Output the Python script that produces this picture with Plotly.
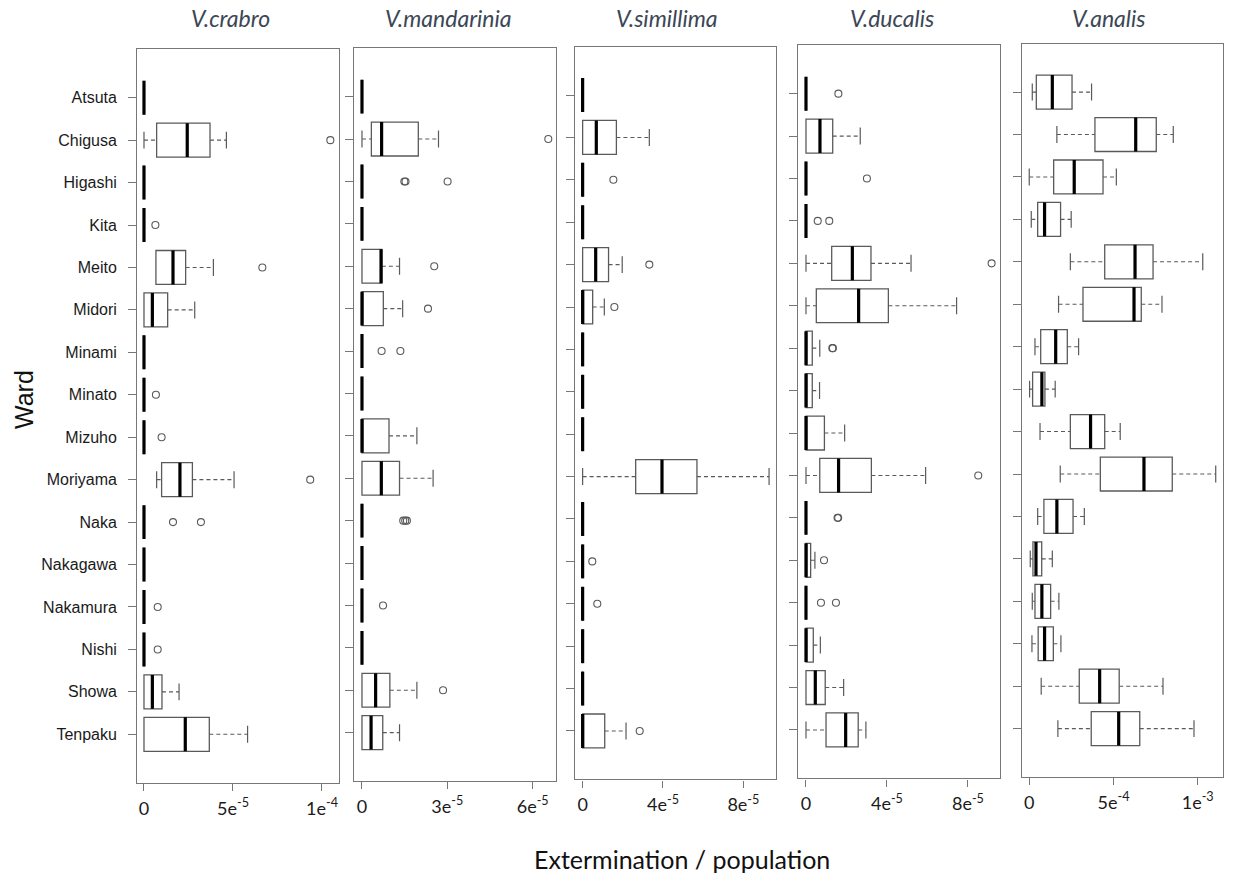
import plotly.graph_objects as go

W, H = 1239, 880

WARDS = ["Atsuta", "Chigusa", "Higashi", "Kita", "Meito", "Midori", "Minami",
         "Minato", "Mizuho", "Moriyama", "Naka", "Nakagawa", "Nakamura",
         "Nishi", "Showa", "Tenpaku"]

# ---- V.crabro (values in units of 1e-5) ----
crabro_lo  = [0, 0.00, 0, 0, 0.67, 0.00, 0, 0, 0, 0.71, 0, 0, 0, 0, 0.00, 0.00]
crabro_q1  = [0, 0.71, 0, 0, 0.67, 0.00, 0, 0, 0, 0.99, 0, 0, 0, 0, 0.00, 0.00]
crabro_med = [0, 2.43, 0, 0, 1.63, 0.47, 0, 0, 0, 2.02, 0, 0, 0, 0, 0.47, 2.32]
crabro_q3  = [0, 3.71, 0, 0, 2.34, 1.33, 0, 0, 0, 2.72, 0, 0, 0, 0, 1.01, 3.67]
crabro_hi  = [0, 4.63, 0, 0, 3.90, 2.85, 0, 0, 0, 5.06, 0, 0, 0, 0, 1.97, 5.82]
crabro_out_ward = ["Chigusa", "Kita", "Meito", "Minato", "Mizuho", "Moriyama",
                   "Naka", "Naka", "Nakamura", "Nishi"]
crabro_out_val = [10.47, 0.64, 6.65, 0.67, 0.99, 9.34, 1.63, 3.20, 0.77, 0.77]

# ---- V.mandarinia (1e-5) ----
mand_lo  = [0, 0.00, 0, 0, 0.00, 0.00, 0, 0, 0.00, 0.00, 0, 0, 0, 0, 0.00, 0.00]
mand_q1  = [0, 0.33, 0, 0, 0.00, 0.00, 0, 0, 0.00, 0.00, 0, 0, 0, 0, 0.00, 0.00]
mand_med = [0, 0.69, 0, 0, 0.67, 0.00, 0, 0, 0.00, 0.68, 0, 0, 0, 0, 0.48, 0.32]
mand_q3  = [0, 1.98, 0, 0, 0.70, 0.75, 0, 0, 0.95, 1.32, 0, 0, 0, 0, 0.98, 0.73]
mand_hi  = [0, 2.69, 0, 0, 1.32, 1.43, 0, 0, 1.93, 2.50, 0, 0, 0, 0, 1.93, 1.32]
mand_out_ward = ["Chigusa", "Higashi", "Higashi", "Higashi", "Meito", "Midori",
                 "Minami", "Minami", "Naka", "Naka", "Naka", "Nakamura", "Showa"]
mand_out_val = [6.55, 1.49, 1.53, 3.01, 2.54, 2.32,
                0.69, 1.35, 1.45, 1.52, 1.58, 0.74, 2.85]

# ---- V.simillima (1e-5) ----
sim_lo  = [0, 0.00, 0, 0, 0.00, 0.00, 0, 0, 0, 0.00, 0, 0, 0, 0, 0, 0.00]
sim_q1  = [0, 0.00, 0, 0, 0.00, 0.00, 0, 0, 0, 2.64, 0, 0, 0, 0, 0, 0.00]
sim_med = [0, 0.68, 0, 0, 0.65, 0.00, 0, 0, 0, 3.95, 0, 0, 0, 0, 0, 0.00]
sim_q3  = [0, 1.68, 0, 0, 1.29, 0.50, 0, 0, 0, 5.69, 0, 0, 0, 0, 0, 1.10]
sim_hi  = [0, 3.32, 0, 0, 1.97, 1.08, 0, 0, 0, 9.28, 0, 0, 0, 0, 0, 2.16]
sim_out_ward = ["Higashi", "Meito", "Midori", "Nakagawa", "Nakamura", "Tenpaku"]
sim_out_val = [1.53, 3.32, 1.58, 0.48, 0.73, 2.84]

# ---- V.ducalis (1e-5) ----
duc_lo  = [0, 0.00, 0, 0, 0.00, 0.00, 0, 0, 0, 0.00, 0, 0, 0, 0, 0.00, 0.00]
duc_q1  = [0, 0.00, 0, 0, 1.27, 0.51, 0, 0, 0, 0.68, 0, 0, 0, 0, 0.00, 0.99]
duc_med = [0, 0.69, 0, 0, 2.29, 2.60, 0, 0, 0, 1.61, 0, 0, 0, 0, 0.46, 1.96]
duc_q3  = [0, 1.32, 0, 0, 3.21, 4.07, 0.31, 0.31, 0.91, 3.23, 0, 0.23, 0, 0.36, 0.95, 2.58]
duc_hi  = [0, 2.68, 0, 0, 5.19, 7.44, 0.68, 0.67, 1.91, 5.91, 0, 0.44, 0, 0.71, 1.86, 2.96]
duc_out_ward = ["Atsuta", "Higashi", "Kita", "Kita", "Meito", "Minami", "Minami",
                "Moriyama", "Naka", "Naka", "Nakagawa", "Nakamura", "Nakamura"]
duc_out_val = [1.60, 3.01, 0.58, 1.15, 9.17, 1.30, 1.33,
               8.51, 1.56, 1.59, 0.89, 0.74, 1.48]

# ---- V.analis (1e-4) ----
ana_lo  = [0.18, 1.64, 0.00, 0.12, 2.44, 1.74, 0.34, 0.02,
           0.64, 1.84, 0.50, 0.06, 0.18, 0.16, 0.71, 1.70]
ana_q1  = [0.42, 3.90, 1.45, 0.50, 4.48, 3.19, 0.68, 0.20,
           2.44, 4.22, 0.87, 0.22, 0.34, 0.53, 2.97, 3.68]
ana_med = [1.37, 6.32, 2.67, 0.91, 6.28, 6.22, 1.57, 0.75,
           3.64, 6.81, 1.64, 0.40, 0.75, 0.91, 4.18, 5.31]
ana_q3  = [2.54, 7.54, 4.38, 1.86, 7.35, 6.65, 2.26, 0.93,
           4.48, 8.49, 2.60, 0.74, 1.27, 1.43, 5.34, 6.56]
ana_hi  = [3.70, 8.55, 5.17, 2.49, 10.30, 7.88, 2.93, 1.54,
           5.40, 11.07, 3.27, 1.37, 1.76, 1.88, 7.94, 9.78]
ana_out_ward = []
ana_out_val = []

# panel settings: title, scale, stats, outliers, tick values/labels,
# x range (in scale units), x-domain px, y-domain px, title x px
PANELS = [
    ("V.crabro", 1e-5, (crabro_lo, crabro_q1, crabro_med, crabro_q3, crabro_hi),
     (crabro_out_ward, crabro_out_val), [0, 5, 10], ["0", "5e<sup>-5</sup>", "1e<sup>-4</sup>"],
     (-0.376, 10.94), (137.3, 338.7), (49.3, 782.7), 230),
    ("V.mandarinia", 1e-5, (mand_lo, mand_q1, mand_med, mand_q3, mand_hi),
     (mand_out_ward, mand_out_val), [0, 3, 6], ["0", "3e<sup>-5</sup>", "6e<sup>-5</sup>"],
     (-0.27, 6.81), (354.3, 555.7), (48.3, 781.0), 448),
    ("V.simillima", 1e-5, (sim_lo, sim_q1, sim_med, sim_q3, sim_hi),
     (sim_out_ward, sim_out_val), [0, 4, 8], ["0", "4e<sup>-5</sup>", "8e<sup>-5</sup>"],
     (-0.38, 9.64), (575.0, 776.3), (46.7, 779.3), 667),
    ("V.ducalis", 1e-5, (duc_lo, duc_q1, duc_med, duc_q3, duc_hi),
     (duc_out_ward, duc_out_val), [0, 4, 8], ["0", "4e<sup>-5</sup>", "8e<sup>-5</sup>"],
     (-0.38, 9.57), (798.3, 999.7), (45.3, 778.3), 892),
    ("V.analis", 1e-4, (ana_lo, ana_q1, ana_med, ana_q3, ana_hi),
     (ana_out_ward, ana_out_val), [0, 5, 10], ["0", "5e<sup>-4</sup>", "1e<sup>-3</sup>"],
     (-0.43, 11.52), (1022.0, 1223.3), (43.7, 777.0), 1109),
]

POS = {w: i + 1 for i, w in enumerate(WARDS)}
positions = [POS[w] for w in WARDS]

BOX_HALF = 0.4     # half box thickness (boxwex 0.8)
CAP_HALF = 0.2     # half staple length
LINE_GREY = "#5a5a5a"
FRAME_GREY = "#777777"

fig = go.Figure()
annotations = []

for k, (title, scale, stats, outs, tv, tt, xr, xdom, ydom, tx) in enumerate(PANELS):
    sfx = "" if k == 0 else str(k + 1)
    xa, ya = "x" + sfx, "y" + sfx
    lo, q1, med, q3, hi = [[v * scale for v in arr] for arr in stats]

    # boxes (hinges only; whiskers drawn separately with dashed lines)
    fig.add_trace(go.Box(
        y=positions, q1=q1, median=med, q3=q3, lowerfence=q1, upperfence=q3,
        orientation="h", width=2 * BOX_HALF, whiskerwidth=0,
        line=dict(color=LINE_GREY, width=1.3), fillcolor="rgba(0,0,0,0)",
        boxpoints=False, hoverinfo="skip", showlegend=False,
        xaxis=xa, yaxis=ya))

    # dashed whiskers and solid staples
    wx, wy, cx, cy = [], [], [], []
    for p, a, b, c, d in zip(positions, lo, q1, q3, hi):
        if a < b:
            wx += [a, b, None]; wy += [p, p, None]
            cx += [a, a, None]; cy += [p - CAP_HALF, p + CAP_HALF, None]
        if d > c:
            wx += [c, d, None]; wy += [p, p, None]
            cx += [d, d, None]; cy += [p - CAP_HALF, p + CAP_HALF, None]
    fig.add_trace(go.Scatter(x=wx, y=wy, mode="lines",
                             line=dict(color=LINE_GREY, width=1.1, dash="4px,3px"),
                             hoverinfo="skip", showlegend=False, xaxis=xa, yaxis=ya))
    fig.add_trace(go.Scatter(x=cx, y=cy, mode="lines",
                             line=dict(color=LINE_GREY, width=1.2),
                             hoverinfo="skip", showlegend=False, xaxis=xa, yaxis=ya))

    # medians (thick black)
    mx, my = [], []
    for p, m in zip(positions, med):
        mx += [m, m, None]; my += [p - BOX_HALF, p + BOX_HALF, None]
    fig.add_trace(go.Scatter(x=mx, y=my, mode="lines",
                             line=dict(color="black", width=3.2),
                             hoverinfo="skip", showlegend=False, xaxis=xa, yaxis=ya))

    # outliers
    ow, ov = outs
    if ow:
        fig.add_trace(go.Scatter(
            x=[v * scale for v in ov], y=[POS[w] for w in ow], mode="markers",
            marker=dict(symbol="circle-open", size=7, color=LINE_GREY,
                        line=dict(width=1.1, color=LINE_GREY)),
            hoverinfo="skip", showlegend=False, xaxis=xa, yaxis=ya))

    xkey = "xaxis" + sfx
    ykey = "yaxis" + sfx
    fig.update_layout(**{
        xkey: dict(
            domain=[xdom[0] / W, xdom[1] / W], anchor=ya,
            range=[xr[0] * scale, xr[1] * scale],
            tickvals=[v * scale for v in tv], ticktext=tt,
            ticks="outside", ticklen=7, tickwidth=1.1, tickcolor=FRAME_GREY,
            tickfont=dict(family="Lato", size=18, color="#1a1a1a"),
            ticklabelstandoff=2,
            showline=True, mirror=True, linecolor=FRAME_GREY, linewidth=1.4,
            showgrid=False, zeroline=False, fixedrange=True),
        ykey: dict(
            domain=[1 - ydom[1] / H, 1 - ydom[0] / H], anchor=xa,
            range=[len(WARDS) + 0.5 + 0.64, 0.5 - 0.64],
            tickvals=positions, ticktext=WARDS,
            showticklabels=(k == 0),
            ticks="outside", ticklen=8, tickwidth=1.1, tickcolor=FRAME_GREY,
            tickfont=dict(family="Liberation Sans", size=16, color="#1a1a1a"),
            ticklabelstandoff=8,
            showline=True, mirror=True, linecolor=FRAME_GREY, linewidth=1.4,
            showgrid=False, zeroline=False, fixedrange=True),
    })

    annotations.append(dict(
        text=title, x=tx / W, y=1 - 18 / H, xref="paper", yref="paper",
        xanchor="center", yanchor="middle", showarrow=False,
        font=dict(family="Lato", size=23, color="#3b4656", style="italic")))

annotations.append(dict(
    text="Ward", x=24 / W, y=1 - 400 / H, xref="paper", yref="paper",
    xanchor="center", yanchor="middle", showarrow=False, textangle=-90,
    font=dict(family="Liberation Sans", size=25, color="#111111")))
annotations.append(dict(
    text="Extermination / population", x=682 / W, y=1 - 859 / H,
    xref="paper", yref="paper", xanchor="center", yanchor="middle",
    showarrow=False, font=dict(family="Lato", size=25, color="#111111")))

fig.update_layout(
    width=W, height=H, margin=dict(l=0, r=0, t=0, b=0),
    paper_bgcolor="white", plot_bgcolor="white",
    showlegend=False, annotations=annotations,
)

fig.write_html("out.html", config={"displayModeBar": False})
